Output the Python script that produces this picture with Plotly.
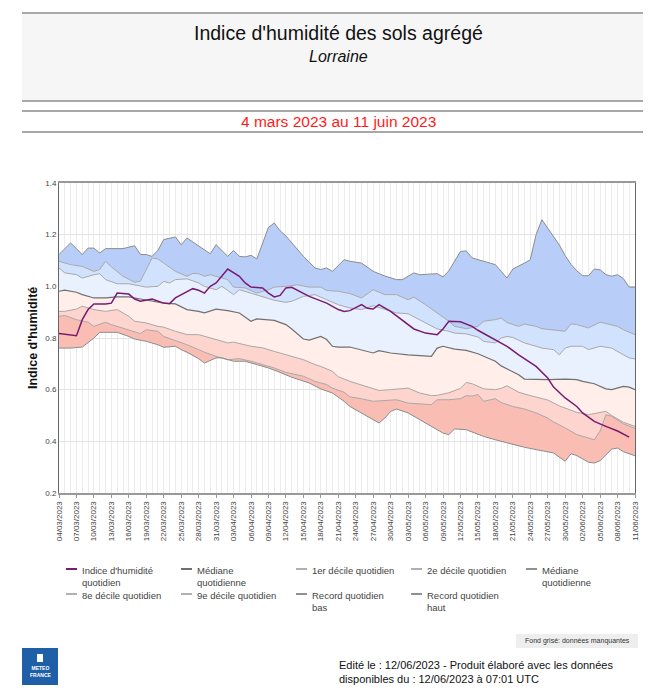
import pandas as pd
import plotly.graph_objects as go

START = pd.Timestamp("2023-03-04")
END_DAY = 99

TITLE = "Indice d'humidité des sols agrégé"
SUBTITLE = "Lorraine"
PERIOD = "4 mars 2023 au 11 juin 2023"
Y_TITLE = "Indice d'humidité"

# (day offset from 04/03/2023, value)
record_haut = [(0,1.123),(2,1.168),(4,1.123),(5,1.148),(6,1.148),(7,1.129),(8,1.146),(11,1.146),(13,1.157),(14,1.123),(15,1.123),(16,1.116),(17,1.139),(18,1.181),(20,1.191),(21,1.161),(22,1.187),(23,1.172),(25,1.142),(26,1.126),(27,1.161),(29,1.116),(30,1.139),(31,1.116),(32,1.114),(33,1.12),(34,1.106),(35,1.17),(36,1.228),(37,1.245),(38,1.215),(39,1.195),(40,1.17),(42,1.116),(44,1.071),(45,1.065),(46,1.071),(47,1.058),(49,1.103),(50,1.097),(52,1.09),(54,1.058),(56,1.04),(58,1.026),(59,1.026),(61,1.052),(62,1.045),(65,1.049),(66,1.036),(67,1.06),(69,1.135),(70,1.137),(71,1.11),(73,1.097),(74,1.09),(75,1.084),(76,1.058),(77,1.032),(78,1.067),(79,1.077),(80,1.09),(81,1.103),(82,1.2),(83,1.258),(84,1.226),(85,1.19),(86,1.16),(87,1.119),(88,1.085),(89,1.06),(90,1.041),(91,1.041),(92,1.067),(93,1.064),(94,1.045),(95,1.039),(96,1.045),(97,1.03),(98,0.997),(99,0.997)]
decile_9 = [(0,1.097),(1,1.09),(2,1.084),(4,1.077),(6,1.058),(7,1.065),(8,1.097),(9,1.075),(11,1.039),(13,1.016),(14,1.02),(16,1.110),(17,1.106),(18,1.09),(20,1.058),(22,1.039),(23,1.05),(24,1.049),(25,1.039),(26,1.045),(29,1.026),(30,0.997),(32,0.994),(34,0.974),(36,0.987),(37,0.997),(39,1.0),(41,1.006),(43,0.997),(45,0.997),(46,0.984),(48,0.981),(50,0.972),(52,0.955),(54,0.987),(56,0.968),(58,0.968),(60,0.948),(61,0.958),(63,0.929),(65,0.897),(67,0.865),(68,0.845),(70,0.836),(72,0.845),(73,0.865),(75,0.871),(76,0.877),(77,0.86),(79,0.845),(80,0.854),(82,0.845),(83,0.836),(85,0.830),(87,0.826),(88,0.855),(89,0.852),(91,0.839),(93,0.861),(94,0.856),(96,0.845),(97,0.832),(99,0.813)]
decile_8 = [(0,1.071),(1,1.052),(3,1.045),(4,1.032),(6,1.045),(7,1.049),(8,1.026),(10,1.010),(12,1.010),(13,1.006),(15,0.997),(17,1.0),(18,1.019),(19,1.013),(20,1.026),(22,1.029),(24,1.013),(25,1.0),(27,0.987),(28,1.0),(30,0.968),(31,0.987),(33,0.974),(35,0.958),(37,0.946),(39,0.938),(40,0.942),(42,0.961),(44,0.968),(46,0.948),(48,0.929),(50,0.916),(52,0.910),(54,0.925),(56,0.910),(58,0.897),(60,0.894),(62,0.871),(64,0.845),(65,0.835),(67,0.826),(68,0.819),(70,0.816),(72,0.804),(73,0.787),(75,0.781),(76,0.8),(77,0.806),(78,0.802),(80,0.781),(82,0.768),(83,0.761),(85,0.755),(86,0.735),(87,0.761),(88,0.768),(90,0.768),(91,0.755),(93,0.768),(95,0.761),(97,0.735),(98,0.723),(99,0.719)]
mediane = [(0,0.981),(1,0.985),(3,0.977),(4,0.968),(6,0.955),(8,0.955),(10,0.959),(12,0.959),(14,0.951),(16,0.942),(18,0.935),(20,0.932),(21,0.92),(22,0.910),(24,0.903),(25,0.897),(27,0.912),(29,0.906),(31,0.897),(33,0.865),(34,0.874),(36,0.871),(37,0.868),(39,0.852),(40,0.835),(42,0.796),(43,0.792),(45,0.806),(46,0.794),(47,0.768),(48,0.765),(50,0.765),(52,0.755),(54,0.742),(55,0.751),(57,0.742),(60,0.735),(62,0.733),(64,0.729),(65,0.761),(66,0.768),(68,0.757),(70,0.752),(72,0.739),(73,0.729),(75,0.710),(76,0.692),(77,0.68),(79,0.658),(80,0.641),(82,0.639),(84,0.639),(87,0.641),(89,0.639),(90,0.632),(92,0.623),(94,0.603),(95,0.6),(97,0.613),(98,0.61),(99,0.6)]
decile_2 = [(0,0.903),(1,0.903),(3,0.912),(4,0.923),(6,0.910),(8,0.903),(10,0.910),(12,0.884),(13,0.865),(15,0.858),(17,0.845),(18,0.842),(20,0.826),(22,0.813),(24,0.813),(25,0.806),(27,0.794),(29,0.781),(30,0.784),(33,0.768),(35,0.762),(37,0.748),(39,0.735),(42,0.716),(44,0.697),(45,0.690),(47,0.671),(48,0.65),(50,0.632),(52,0.619),(53,0.613),(55,0.597),(57,0.6),(60,0.606),(62,0.587),(64,0.577),(65,0.578),(67,0.588),(69,0.605),(70,0.628),(71,0.623),(73,0.603),(75,0.6),(76,0.605),(77,0.615),(79,0.59),(81,0.577),(82,0.572),(84,0.56),(86,0.537),(87,0.528),(89,0.512),(91,0.503),(93,0.512),(94,0.516),(95,0.5),(97,0.474),(99,0.458)]
decile_1 = [(0,0.884),(1,0.887),(3,0.871),(5,0.861),(6,0.845),(8,0.861),(9,0.852),(11,0.839),(13,0.826),(14,0.817),(15,0.832),(17,0.826),(18,0.806),(20,0.791),(22,0.774),(24,0.755),(25,0.745),(27,0.729),(29,0.716),(31,0.72),(33,0.710),(35,0.697),(37,0.684),(39,0.667),(42,0.652),(44,0.632),(46,0.62),(47,0.606),(49,0.590),(50,0.572),(52,0.565),(54,0.555),(56,0.558),(58,0.561),(60,0.548),(62,0.545),(64,0.542),(65,0.561),(67,0.561),(69,0.565),(70,0.577),(71,0.575),(72,0.581),(73,0.555),(75,0.565),(76,0.55),(78,0.535),(80,0.525),(82,0.510),(84,0.49),(85,0.475),(87,0.452),(89,0.426),(91,0.413),(92,0.406),(93,0.44),(94,0.503),(95,0.497),(97,0.468),(99,0.45)]
record_bas = [(0,0.761),(2,0.761),(4,0.765),(5,0.781),(6,0.8),(7,0.822),(10,0.822),(12,0.806),(13,0.796),(15,0.787),(17,0.774),(18,0.764),(20,0.768),(21,0.755),(22,0.745),(24,0.72),(25,0.703),(27,0.723),(28,0.723),(30,0.71),(32,0.71),(34,0.697),(36,0.684),(38,0.667),(40,0.648),(43,0.626),(45,0.603),(47,0.587),(49,0.555),(50,0.535),(52,0.510),(54,0.484),(55,0.471),(56,0.49),(57,0.516),(58,0.525),(60,0.510),(62,0.484),(64,0.458),(66,0.432),(67,0.426),(68,0.448),(70,0.445),(72,0.426),(73,0.419),(75,0.406),(78,0.387),(80,0.377),(82,0.368),(85,0.355),(87,0.323),(88,0.352),(89,0.345),(91,0.319),(92,0.316),(93,0.325),(95,0.37),(96,0.374),(97,0.36),(98,0.352),(99,0.344)]
indice = [(0,0.817),(3,0.809),(4,0.871),(5,0.91),(6,0.932),(8,0.932),(9,0.935),(10,0.974),(12,0.97),(13,0.951),(14,0.942),(16,0.951),(18,0.935),(19,0.933),(20,0.955),(22,0.981),(23,0.991),(24,0.985),(25,0.974),(26,1.0),(27,1.013),(28,1.04),(29,1.067),(31,1.039),(32,1.013),(33,0.997),(35,0.994),(36,0.974),(37,0.959),(38,0.965),(39,0.994),(40,0.996),(41,0.985),(43,0.961),(46,0.935),(48,0.91),(49,0.903),(50,0.906),(52,0.929),(53,0.915),(54,0.912),(55,0.929),(57,0.903),(59,0.87),(60,0.855),(61,0.835),(63,0.819),(65,0.813),(66,0.835),(67,0.865),(69,0.863),(71,0.845),(72,0.83),(74,0.806),(75,0.794),(77,0.768),(79,0.735),(80,0.719),(82,0.69),(84,0.645),(85,0.61),(87,0.568),(89,0.535),(90,0.51),(92,0.477),(94,0.458),(96,0.44),(98,0.416)]

LEGEND_ROW1 = ["Indice d'humidité<br>quotidien", "Médiane<br>quotidienne", "1er décile quotidien",
               "2e décile quotidien", "Médiane<br>quotidienne"]
LEGEND_ROW2 = ["8e décile quotidien", "9e décile quotidien", "Record quotidien<br>bas", "Record quotidien<br>haut"]

FOOT_MISSING = "Fond grisé: données manquantes"
FOOT_EDIT = "Edité le : 12/06/2023 - Produit élaboré avec les données<br>disponibles du : 12/06/2023 à 07:01 UTC"

FONT = "Liberation Sans, Arial, sans-serif"

def xy(series):
    d = [p[0] for p in series]
    v = [p[1] for p in series]
    return list(START + pd.to_timedelta(d, unit="D")), v

# geometry of the plot area in pixels
W, H = 668, 692
L, R, T, B = 59, 635, 183, 493
def PX(x):
    return (x - L) / (R - L)
def PY(y):
    return (B - y) / (B - T)

fig = go.Figure()

bands = [
    (record_haut, decile_9, "#b8cef9"),
    (decile_9, decile_8, "#d0e2fd"),
    (decile_8, mediane, "#e9f1fe"),
    (mediane, decile_2, "#ffeeea"),
    (decile_2, decile_1, "#fdd5ce"),
    (decile_1, record_bas, "#f9bdb4"),
]
for up, lo, col in bands:
    xu, yu = xy(up)
    xl, yl = xy(lo)
    fig.add_trace(go.Scatter(x=xu + xl[::-1], y=yu + yl[::-1], fill="toself", fillcolor=col,
                             line=dict(width=0), mode="lines", hoverinfo="skip", showlegend=False))

lines = [
    (record_haut, "#8c8c8c", 1.0),
    (decile_9, "#a8a8a8", 1.0),
    (decile_8, "#a8a8a8", 1.0),
    (mediane, "#707070", 1.2),
    (decile_2, "#a8a8a8", 1.0),
    (decile_1, "#a8a8a8", 1.0),
    (record_bas, "#8c8c8c", 1.0),
]
for s, col, w in lines:
    xs, ys = xy(s)
    fig.add_trace(go.Scatter(x=xs, y=ys, mode="lines", line=dict(color=col, width=w), showlegend=False))

xs, ys = xy(indice)
fig.add_trace(go.Scatter(x=xs, y=ys, mode="lines", line=dict(color="#7a1b72", width=1.5), showlegend=False))

tick_dates = pd.date_range(START, START + pd.Timedelta(days=END_DAY), freq="3D")
tick_text = [d.strftime("%d/%m/%Y") for d in tick_dates]

fig.update_xaxes(
    range=[START, START + pd.Timedelta(days=END_DAY)],
    tickvals=list(tick_dates), ticktext=tick_text, tickangle=-90,
    tickfont=dict(size=8, color="#444", family=FONT),
    ticks="outside", ticklen=3, tickcolor="#999",
    showgrid=True, gridcolor="#ececec", gridwidth=1,
    minor=dict(dtick=86400000.0, tick0=START, showgrid=True, gridcolor="#ececec", gridwidth=1),
    showline=True, linecolor="#999", linewidth=2, mirror=True, zeroline=False,
)
fig.update_yaxes(
    range=[0.2, 1.4], dtick=0.2, tick0=0.2, tickformat=".1f",
    tickfont=dict(size=8, color="#444", family=FONT),
    showgrid=True, gridcolor="#e3e3e3", gridwidth=1,
    showline=True, linecolor="#666", linewidth=1, mirror=True, zeroline=False,
    ticks="", ticklen=0,
)

shapes = []
ann = []
# header box
HX0, HX1 = 22, 643
shapes.append(dict(type="rect", xref="paper", yref="paper", x0=PX(HX0), x1=PX(HX1), y0=PY(101), y1=PY(13),
                   fillcolor="#f6f6f6", line=dict(width=0), layer="below"))
for yy in (13, 101, 111, 132):
    shapes.append(dict(type="line", xref="paper", yref="paper", x0=PX(HX0), x1=PX(HX1), y0=PY(yy), y1=PY(yy),
                       line=dict(color="#a8a8a8", width=2)))
ann.append(dict(text=TITLE, x=PX(338), y=PY(33), xref="paper", yref="paper", showarrow=False,
                font=dict(size=19.5, color="#111", family=FONT), xanchor="center", yanchor="middle"))
ann.append(dict(text="<i>" + SUBTITLE + "</i>", x=PX(338), y=PY(56), xref="paper", yref="paper", showarrow=False,
                font=dict(size=16, color="#111", family=FONT), xanchor="center", yanchor="middle"))
ann.append(dict(text=PERIOD, x=PX(338), y=PY(121), xref="paper", yref="paper", showarrow=False,
                font=dict(size=15.5, color="#ff1a1a", family=FONT), xanchor="center", yanchor="middle"))
ann.append(dict(text="<b>" + Y_TITLE + "</b>", x=PX(33), y=PY(338), xref="paper", yref="paper", showarrow=False,
                textangle=-90, font=dict(size=12.5, color="#111", family=FONT), xanchor="center", yanchor="middle"))

# legend
col_x = [66, 181, 296, 411, 526]
leg_colors1 = ["#7a1b72", "#707070", "#b0b0b0", "#b0b0b0", "#909090"]
leg_colors2 = ["#b0b0b0", "#b0b0b0", "#909090", "#909090"]
for row_y, labels, cols in ((569, LEGEND_ROW1, leg_colors1), (594, LEGEND_ROW2, leg_colors2)):
    for i, lab in enumerate(labels):
        x0 = col_x[i]
        shapes.append(dict(type="line", xref="paper", yref="paper", x0=PX(x0), x1=PX(x0 + 11),
                           y0=PY(row_y), y1=PY(row_y), line=dict(color=cols[i], width=2)))
        ann.append(dict(text=lab, x=PX(x0 + 14), y=PY(row_y - 6.5), xref="paper", yref="paper", showarrow=False,
                        align="left", xanchor="left", yanchor="top",
                        font=dict(size=9.5, color="#444", family=FONT)))

# footer
shapes.append(dict(type="rect", xref="paper", yref="paper", x0=PX(516), x1=PX(638), y0=PY(648), y1=PY(634),
                   fillcolor="#eeeeee", line=dict(width=0)))
ann.append(dict(text=FOOT_MISSING, x=PX(577), y=PY(641), xref="paper", yref="paper", showarrow=False,
                font=dict(size=7, color="#333", family=FONT), xanchor="center", yanchor="middle"))
ann.append(dict(text=FOOT_EDIT, x=PX(337), y=PY(657), xref="paper", yref="paper", showarrow=False,
                align="left", xanchor="left", yanchor="top",
                font=dict(size=11, color="#111", family=FONT)))
# logo
shapes.append(dict(type="rect", xref="paper", yref="paper", x0=PX(22), x1=PX(58), y0=PY(685), y1=PY(648),
                   fillcolor="#1f5fa8", line=dict(width=0)))
shapes.append(dict(type="rect", xref="paper", yref="paper", x0=PX(37), x1=PX(43), y0=PY(662), y1=PY(654),
                   fillcolor="#ffffff", line=dict(width=0)))
ann.append(dict(text="<b>METEO<br>FRANCE</b>", x=PX(40), y=PY(671), xref="paper", yref="paper", showarrow=False,
                font=dict(size=5, color="#ffffff", family=FONT), xanchor="center", yanchor="middle"))

fig.update_layout(
    width=W, height=H,
    margin=dict(l=L, r=W - R, t=T, b=H - B, pad=0),
    paper_bgcolor="#ffffff", plot_bgcolor="#ffffff",
    showlegend=False, shapes=shapes, annotations=ann,
    font=dict(family=FONT),
)

fig.write_html("out.html", config={"displayModeBar": False},
               post_script="document.body.style.margin='0';")
